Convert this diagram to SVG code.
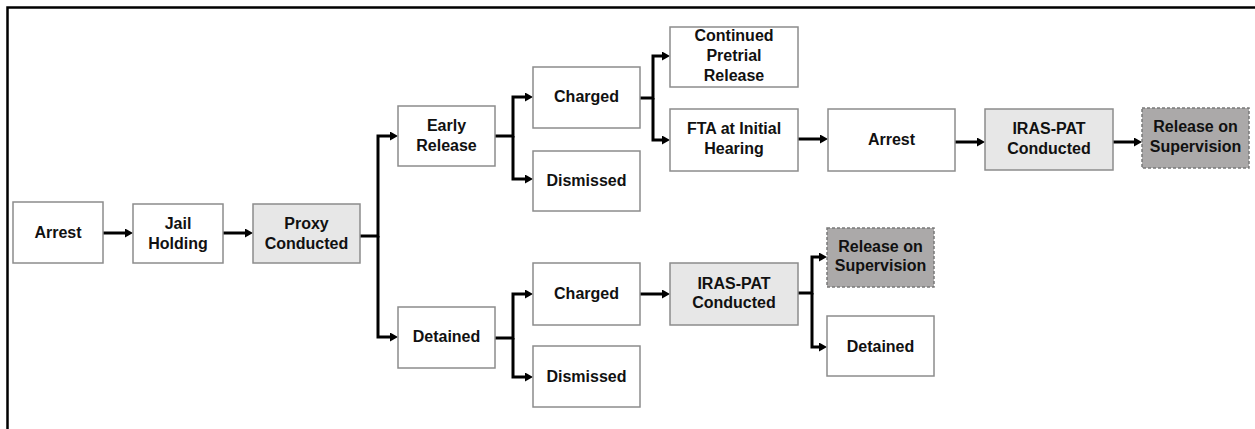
<svg xmlns="http://www.w3.org/2000/svg" width="1255" height="429" viewBox="0 0 1255 429">
<style>
.box{fill:#ffffff;stroke:#8c8c8c;stroke-width:1.5}
.gray{fill:#e7e7e7}
.dark{fill:#aba9a9;stroke:#7a7a7a;stroke-dasharray:3 2}
.lbl{font-family:"Liberation Sans",Arial,sans-serif;font-weight:bold;font-size:16px;fill:#111;text-anchor:middle}
.con{fill:none;stroke:#000;stroke-width:3;stroke-linejoin:miter}
.frame{fill:none;stroke:#000;stroke-width:2.5}
</style>
<defs>
<marker id="ah" markerUnits="userSpaceOnUse" markerWidth="9" markerHeight="9" refX="2" refY="4.5" orient="auto" viewBox="0 0 9 9">
<path d="M0,0 L8,4.5 L0,9 z" fill="#000"/>
</marker>
</defs>
<rect width="1255" height="429" fill="#fff"/>
<path class="frame" d="M7.5,429 V7.5 H1255"/>

<g id="connectors">
<path class="con" marker-end="url(#ah)" d="M103,233 H127"/>
<path class="con" marker-end="url(#ah)" d="M223,233 H247"/>
<path class="con" marker-end="url(#ah)" d="M360,236 H378 V136 H392"/>
<path class="con" marker-end="url(#ah)" d="M378,236 V337 H392"/>
<path class="con" marker-end="url(#ah)" d="M495,136 H513 V97 H527"/>
<path class="con" marker-end="url(#ah)" d="M513,136 V179 H527"/>
<path class="con" marker-end="url(#ah)" d="M640,98 H653 V56 H664"/>
<path class="con" marker-end="url(#ah)" d="M653,98 V140 H664"/>
<path class="con" marker-end="url(#ah)" d="M798,139 H822"/>
<path class="con" marker-end="url(#ah)" d="M955,142 H979"/>
<path class="con" marker-end="url(#ah)" d="M1113,142 H1136"/>
<path class="con" marker-end="url(#ah)" d="M495,338 H513 V294 H527"/>
<path class="con" marker-end="url(#ah)" d="M513,338 V377 H527"/>
<path class="con" marker-end="url(#ah)" d="M640,294 H664"/>
<path class="con" marker-end="url(#ah)" d="M798,293 H812 V257 H821"/>
<path class="con" marker-end="url(#ah)" d="M812,293 V347 H821"/>
</g>

<g id="n_arrest"><rect class="box" x="13" y="202" width="90" height="61"/><text class="lbl" x="58" y="238">Arrest</text></g>
<g id="n_jail"><rect class="box" x="133" y="204" width="90" height="59"/><text class="lbl" x="178" y="229">Jail</text><text class="lbl" x="178" y="249">Holding</text></g>
<g id="n_proxy"><rect class="box gray" x="253" y="204" width="107" height="59"/><text class="lbl" x="306.5" y="229">Proxy</text><text class="lbl" x="306.5" y="249">Conducted</text></g>
<g id="n_early"><rect class="box" x="398" y="106" width="97" height="60"/><text class="lbl" x="446.5" y="131">Early</text><text class="lbl" x="446.5" y="151">Release</text></g>
<g id="n_charged1"><rect class="box" x="533" y="67" width="107" height="61"/><text class="lbl" x="586.5" y="102">Charged</text></g>
<g id="n_dismissed1"><rect class="box" x="533" y="151" width="107" height="60"/><text class="lbl" x="586.5" y="186">Dismissed</text></g>
<g id="n_cpr"><rect class="box" x="670" y="27" width="128" height="60"/><text class="lbl" x="734" y="41">Continued</text><text class="lbl" x="734" y="61">Pretrial</text><text class="lbl" x="734" y="81">Release</text></g>
<g id="n_fta"><rect class="box" x="670" y="109" width="128" height="62"/><text class="lbl" x="734" y="134">FTA at Initial</text><text class="lbl" x="734" y="154">Hearing</text></g>
<g id="n_arrest2"><rect class="box" x="828" y="109" width="127" height="62"/><text class="lbl" x="891.5" y="145">Arrest</text></g>
<g id="n_iras1"><rect class="box gray" x="985" y="109" width="128" height="61"/><text class="lbl" x="1049" y="134">IRAS-PAT</text><text class="lbl" x="1049" y="154">Conducted</text></g>
<g id="n_ros1"><rect class="box dark" x="1142" y="108" width="107" height="60"/><text class="lbl" x="1195.5" y="132">Release on</text><text class="lbl" x="1195.5" y="152">Supervision</text></g>
<g id="n_detained1"><rect class="box" x="398" y="307" width="97" height="61"/><text class="lbl" x="446.5" y="342">Detained</text></g>
<g id="n_charged2"><rect class="box" x="533" y="263" width="107" height="62"/><text class="lbl" x="586.5" y="299">Charged</text></g>
<g id="n_dismissed2"><rect class="box" x="533" y="346" width="107" height="61"/><text class="lbl" x="586.5" y="382">Dismissed</text></g>
<g id="n_iras2"><rect class="box gray" x="670" y="263" width="128" height="62"/><text class="lbl" x="734" y="289">IRAS-PAT</text><text class="lbl" x="734" y="308">Conducted</text></g>
<g id="n_ros2"><rect class="box dark" x="827" y="228" width="107" height="59"/><text class="lbl" x="880.5" y="252">Release on</text><text class="lbl" x="880.5" y="271">Supervision</text></g>
<g id="n_detained2"><rect class="box" x="827" y="316" width="107" height="60"/><text class="lbl" x="880.5" y="352">Detained</text></g>
</svg>
